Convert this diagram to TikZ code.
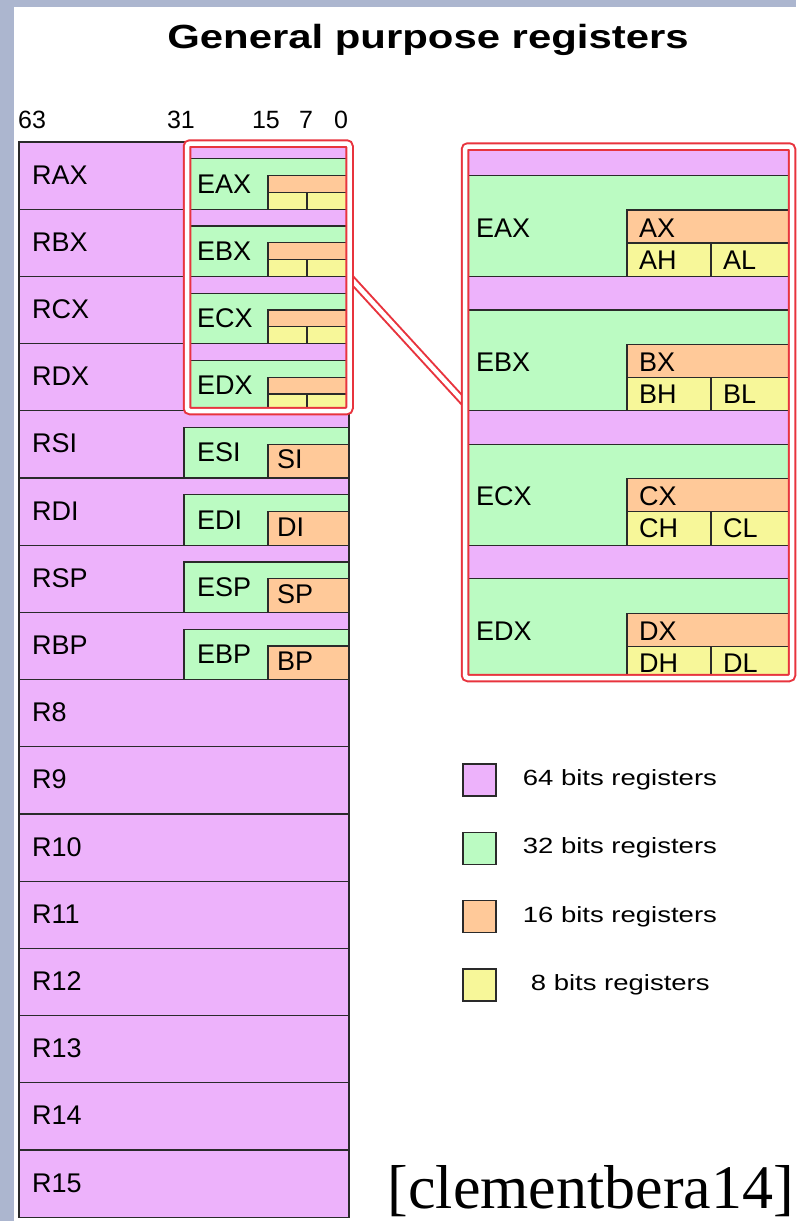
\documentclass[tikz,border=0pt]{standalone}
\usepackage{fontspec}
\setmainfont{Liberation Sans}
\newfontfamily\citefont{Liberation Serif}
\usepackage{graphicx}
\usetikzlibrary{positioning}
\definecolor{violet64}{HTML}{EDB2FB}
\definecolor{green32}{HTML}{BBFBC2}
\definecolor{orange16}{HTML}{FFC999}
\definecolor{yellow8}{HTML}{F7F799}
\definecolor{edge}{HTML}{2A2A2A}
\definecolor{hlred}{HTML}{E8343E}
\definecolor{bgblue}{HTML}{ACB6CF}
\newcommand{\widetxt}[1]{\scalebox{1.25}[1]{#1}}

\begin{document}
\begin{tikzpicture}[x=1pt, y=-1pt, node distance=26pt,
  reg/.style={draw=edge, line width=1.3pt},
  r64/.style={reg, fill=violet64},
  r32/.style={reg, fill=green32},
  r16/.style={reg, fill=orange16},
  r8/.style={reg, fill=yellow8},
  lbl/.style={font=\fontsize{27}{30}\selectfont, inner sep=0pt, anchor=base west},
  bits/.style={font=\fontsize{25}{28}\selectfont, inner sep=0pt, anchor=base},
  zoombox/.style={minimum width=#1, inner sep=0pt, outer sep=0pt},
  hl/.style={draw=hlred, line width=2pt, double=white, double distance=4.5pt},
  key/.style={reg, minimum width=33pt, minimum height=32pt, inner sep=0pt},
  keytxt/.style={font=\fontsize{22}{26}\selectfont, inner sep=0pt, anchor=west}]
  \fill[white] (0,0) rectangle (796,1221);
  \useasboundingbox (0,0) rectangle (796,1221);
  \fill[bgblue] (0,0) rectangle (14,1221);
  \fill[bgblue] (0,0) rectangle (796,7);

  \node[font=\bfseries\fontsize{33.5}{40}\selectfont, anchor=base, inner sep=0pt] (title) at (428,48) {\widetxt{General purpose registers}};
  \node[bits, anchor=base west] (b63) at (18,128) {63};
  \node[bits] (b31) at (181,128) {31};
  \node[bits] (b15) at (266,128) {15};
  \node[bits] (b7) at (306,128) {7};
  \node[bits] (b0) at (341,128) {0};

  % 64 bit column
  \foreach \name [count=\i from 0] in {RAX,RBX,RCX,RDX,RSI,RDI,RSP,RBP,R8,R9,R10,R11,R12,R13,R14,R15}{
    \pgfmathsetmacro{\rt}{142+67.2*\i}
    \draw[r64] (19,\rt) rectangle (349,\rt+67.2);
    \node[lbl] (\name) at (32,\rt+42) {\name};
  }
  \foreach \ltr [count=\i from 0] in {A,B,C,D}{
    \pgfmathsetmacro{\rt}{142+67.2*\i}
    \draw[r32] (184,\rt+16.8) rectangle (349,\rt+67.2);
    \draw[r16] (268,\rt+33.6) rectangle (349,\rt+50.4);
    \draw[r8] (268,\rt+50.4) rectangle (307,\rt+67.2);
    \draw[r8] (307,\rt+50.4) rectangle (349,\rt+67.2);
    \node[lbl] (E\ltr X) at (197,\rt+51) {E\ltr X};
  }
  \foreach \rr [count=\i from 4] in {SI,DI,SP,BP}{
    \pgfmathsetmacro{\rt}{142+67.2*\i}
    \draw[r32] (184,\rt+16.8) rectangle (349,\rt+67.2);
    \draw[r16] (268,\rt+33.6) rectangle (349,\rt+67.2);
    \node[lbl] (E\rr) at (197,\rt+51) {E\rr};
    \node[lbl] (\rr) at (277,\rt+58) {\rr};
  }

  % zoomed view
  \begin{scope}
    \clip (465,146.5) rectangle (792,678);
    \foreach \ltr [count=\i from 0] in {A,B,C,D}{
      \pgfmathsetmacro{\rt}{142+134.4*\i}
      \draw[r64] (455,\rt) rectangle (800,\rt+33.6);
      \draw[r32] (455,\rt+33.6) rectangle (800,\rt+134.4);
      \draw[r16] (627,\rt+68) rectangle (800,\rt+101);
      \draw[r8] (627,\rt+101) rectangle (711,\rt+134.4);
      \draw[r8] (711,\rt+101) rectangle (800,\rt+134.4);
      \node[lbl] (bigE\ltr X) at (476,\rt+95) {E\ltr X};
      \node[lbl] (big\ltr X) at (639,\rt+95) {\ltr X};
      \node[lbl] (big\ltr H) at (639,\rt+127) {\ltr H};
      \node[lbl] (big\ltr L) at (723,\rt+127) {\ltr L};
    }
  \end{scope}

  \node[zoombox=162.5pt, minimum height=267.5pt] (zoomsrc) at (268.25,277.25) {};
  \node[zoombox=327pt, minimum height=531.5pt] (zoombig) at (628.5,412.25) {};
  \draw[hl] (zoomsrc.east) -- ([yshift=9pt]zoombig.west);
  \draw[hl, rounded corners=3pt] (zoomsrc.north west) rectangle (zoomsrc.south east);
  \draw[hl, rounded corners=3pt] (zoombig.north west) rectangle (zoombig.south east);

  % legend
  \node[key, fill=violet64] (k64) at (479.5,780) {};
  \node[key, fill=green32, below=35pt of k64] (k32) {};
  \node[key, fill=orange16, below=35pt of k32] (k16) {};
  \node[key, fill=yellow8, below=35pt of k16] (k8) {};
  \node[keytxt, right=of k64] (t64) {\widetxt{64 bits registers}};
  \node[keytxt, right=of k32] (t32) {\widetxt{32 bits registers}};
  \node[keytxt, right=of k16] (t16) {\widetxt{16 bits registers}};
  \node[keytxt, right=34pt of k8] (t8) {\widetxt{8 bits registers}};

  \node[font=\citefont\fontsize{62}{70}\selectfont, anchor=base east, inner sep=0pt] (cite) at (794,1208) {[clementbera14]};
\end{tikzpicture}
\end{document}
